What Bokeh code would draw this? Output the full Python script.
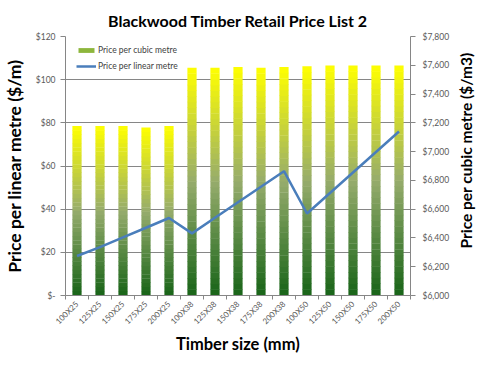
import numpy as np
from bokeh.plotting import figure
from bokeh.layouts import row
from bokeh.models import (Range1d, LinearAxis, FixedTicker, Legend, LegendItem,
                          ColumnDataSource, Label)
from bokeh.embed import file_html
from bokeh.resources import INLINE

# ---------------- data ----------------
sizes = ["100X25", "125X25", "150X25", "175X25", "200X25",
         "100X38", "125X38", "150X38", "175X38", "200X38",
         "100X50", "125X50", "150X50", "175X50", "200X50"]
cubic = [7175, 7175, 7175, 7165, 7175,
         7580, 7580, 7585, 7580, 7585,
         7590, 7595, 7595, 7595, 7595]
linear = [18.3, 22.4, 26.9, 31.4, 35.9,
          28.8, 36.0, 43.2, 50.4, 57.6,
          38.0, 47.5, 57.0, 66.5, 76.0]
left_ticks = [0, 20, 40, 60, 80, 100, 120]
left_labels = ["$-", "$20", "$40", "$60", "$80", "$100", "$120"]
right_ticks = [6000, 6200, 6400, 6600, 6800, 7000, 7200, 7400, 7600, 7800]
right_labels = ["$6,000", "$6,200", "$6,400", "$6,600", "$6,800",
                "$7,000", "$7,200", "$7,400", "$7,600", "$7,800"]

# ---------------- style ----------------
FONT = "Lato"
GRAY = "#868686"
TXT = "#595959"
stops = [(0.0, (24, 100, 24)), (0.5, (150, 172, 108)), (1.0, (255, 255, 0))]
NSLICE = 40
BAR_W = 0.4

def grad_color(t):
    for (t0, c0), (t1, c1) in zip(stops[:-1], stops[1:]):
        if t <= t1:
            f = (t - t0) / (t1 - t0)
            c = [round(a + (b - a) * f) for a, b in zip(c0, c1)]
            return "#%02x%02x%02x" % tuple(c)
    return "#%02x%02x%02x" % stops[-1][1]

n = len(sizes)
centers = np.arange(n) + 0.5
base = right_ticks[0]

xs, bots, tops, cols = [], [], [], []
for xc, v in zip(centers, cubic):
    for k in range(NSLICE):
        xs.append(xc)
        bots.append(base + (v - base) * k / NSLICE)
        tops.append(base + (v - base) * (k + 1) / NSLICE + (v - base) * 0.002)
        cols.append(grad_color((k + 0.5) / NSLICE))
bar_src = ColumnDataSource(dict(x=xs, bottom=bots, top=tops, color=cols))

p = figure(width=453, height=369, output_backend="svg", toolbar_location=None,
           x_range=Range1d(0, n), y_range=Range1d(left_ticks[0], left_ticks[-1]),
           min_border_left=64, min_border_right=43, min_border_top=36,
           min_border_bottom=74)
p.extra_y_ranges = {"cubic": Range1d(right_ticks[0], right_ticks[-1])}
p.outline_line_color = None
p.background_fill_color = "white"

p.title.text = "Blackwood Timber Retail Price List 2"
p.title.align = "center"
p.title.text_font = FONT
p.title.text_font_size = "16px"
p.title.text_font_style = "bold"
p.title.text_color = "black"
p.title.offset = 4
p.title.standoff = 14

bars = p.vbar(x="x", width=BAR_W, bottom="bottom", top="top", source=bar_src,
              fill_color="color", line_color=None, y_range_name="cubic")
lin = p.line(centers, linear, line_color="#4a7ebb", line_width=2.5)
dummy = p.vbar(x=[-5.0], width=BAR_W, top=[base], bottom=[base],
               fill_color="#8db63c", line_color=None, y_range_name="cubic")

# x axis
xa = p.xaxis[0]
xa.ticker = FixedTicker(ticks=list(centers), minor_ticks=list(np.arange(n + 1)))
xa.major_label_overrides = {float(c): s for c, s in zip(centers, sizes)}
xa.major_label_orientation = np.pi / 4
xa.major_tick_out = 0
xa.major_tick_in = 0
xa.minor_tick_out = 4
xa.minor_tick_in = 0
xa.minor_tick_line_color = GRAY
xa.axis_line_color = GRAY
xa.major_label_text_font = FONT
xa.major_label_text_font_size = "8px"
xa.major_label_text_color = TXT
xa.major_label_standoff = 3
xa.axis_label = "Timber size (mm)"
xa.axis_label_text_font = FONT
xa.axis_label_text_font_size = "16.5px"
xa.axis_label_text_font_style = "bold"
xa.axis_label_text_color = "black"
xa.axis_label_standoff = 1

# left axis
ya = p.yaxis[0]
ya.ticker = FixedTicker(ticks=left_ticks)
ya.major_label_overrides = {t: s for t, s in zip(left_ticks, left_labels)}
ya.minor_tick_line_color = None
ya.major_tick_out = 5
ya.major_tick_in = 0
ya.major_tick_line_color = GRAY
ya.axis_line_color = GRAY
ya.major_label_text_font = FONT
ya.major_label_text_font_size = "8.5px"
ya.major_label_text_color = TXT
ya.major_label_standoff = 5
ya.axis_label = "Price per linear metre ($/m)"
ya.axis_label_text_font = FONT
ya.axis_label_text_font_size = "17.5px"
ya.axis_label_text_font_style = "bold"
ya.axis_label_text_color = "black"
ya.axis_label_standoff = 8

# right axis
ra = LinearAxis(y_range_name="cubic", ticker=FixedTicker(ticks=right_ticks))
ra.major_label_overrides = {t: s for t, s in zip(right_ticks, right_labels)}
ra.minor_tick_line_color = None
ra.major_tick_out = 5
ra.major_tick_in = 0
ra.major_tick_line_color = GRAY
ra.axis_line_color = GRAY
ra.major_label_text_font = FONT
ra.major_label_text_font_size = "8.5px"
ra.major_label_text_color = TXT
ra.major_label_standoff = 7
p.add_layout(ra, "right")

p.xgrid.grid_line_color = None
p.ygrid.ticker = FixedTicker(ticks=left_ticks)
p.ygrid.grid_line_color = GRAY
p.ygrid.grid_line_width = 1

legend = Legend(items=[LegendItem(label="Price per cubic metre", renderers=[dummy]),
                       LegendItem(label="Price per linear metre", renderers=[lin])],
                location=(11, 223), padding=6, margin=0, spacing=4,
                glyph_width=20, glyph_height=6, label_height=12,
                label_standoff=2, label_text_font=FONT,
                label_text_font_size="8.5px", label_text_color="#404040",
                background_fill_alpha=0, border_line_color=None)
p.add_layout(legend)

# narrow companion figure holding the right-hand axis title (bottom-to-top)
p2 = figure(width=30, height=369, output_backend="svg", toolbar_location=None,
            x_range=Range1d(0, 1), y_range=Range1d(0, 1),
            min_border_left=0, min_border_right=0, min_border_top=0,
            min_border_bottom=0)
p2.axis.visible = False
p2.grid.visible = False
p2.outline_line_color = None
p2.add_layout(Label(x=0.42, y=0.56, text="Price per cubic metre ($/m3)",
                    angle=np.pi / 2, text_align="center", text_baseline="middle",
                    text_font=FONT, text_font_size="15.5px",
                    text_font_style="bold", text_color="black"))

layout = row(p, p2, spacing=0)
open("out.html", "w").write(file_html(layout, INLINE))
